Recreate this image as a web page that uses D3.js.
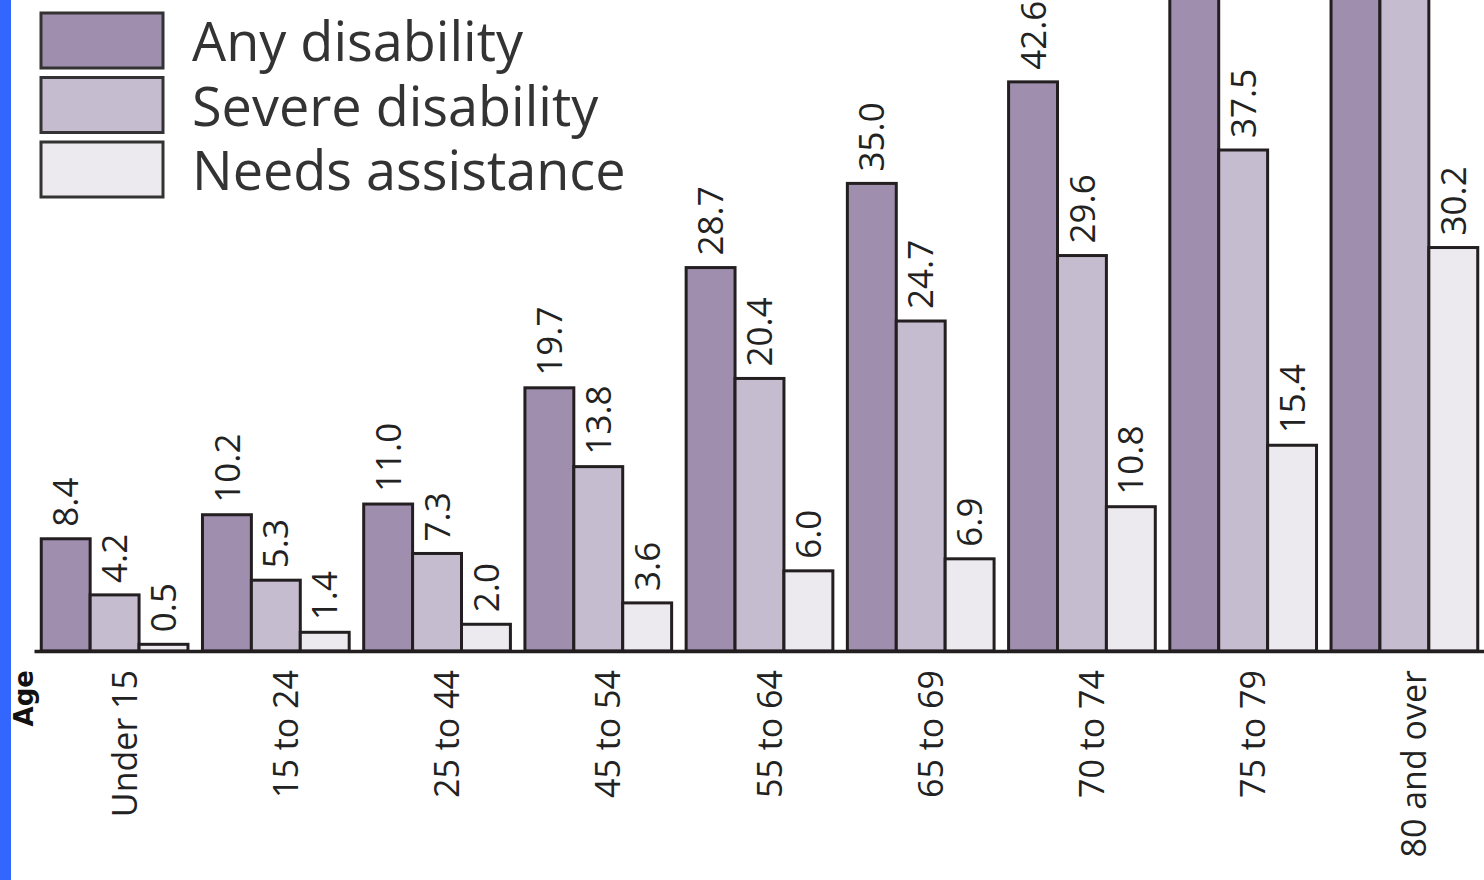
<!DOCTYPE html>
<html>
<head>
<meta charset="utf-8">
<script src="https://cdn.jsdelivr.net/npm/d3@7"></script>
<style>
  html, body { margin: 0; padding: 0; background: #fff; overflow: hidden; }
  svg { display: block; }
</style>
</head>
<body>
<svg id="chart"></svg>
<script>
// age groups and the three series (percent)
const ages = ['Under 15', '15 to 24', '25 to 44', '45 to 54', '55 to 64', '65 to 69', '70 to 74', '75 to 79', '80 and over']
const seriesNames = ['Any disability', 'Severe disability', 'Needs assistance']
const anyDisability = [8.4, 10.2, 11.0, 19.7, 28.7, 35.0, 42.6, 53.6, 71.0]
const severeDisability = [4.2, 5.3, 7.3, 13.8, 20.4, 24.7, 29.6, 37.5, 55.8]
const needsAssistance = [0.5, 1.4, 2.0, 3.6, 6.0, 6.9, 10.8, 15.4, 30.2]
const colors = ['#a08eaf', '#c6bccf', '#ece9ef']

const width = 1484
const height = 880
const baseY = 651

const svg = d3.select('#chart')
  .attr('width', width)
  .attr('height', height)

const seriesValues = [anyDisability, severeDisability, needsAssistance]
const data = ages.map((age, i) => ({
  age: age,
  values: seriesNames.map((name, j) => ({ name: name, value: seriesValues[j][i] }))
}))

// the chart is cropped at the top, tall bars run past the edge
const x0 = d3.scaleBand()
  .domain(ages)
  .range([34, 1485])
  .paddingInner(0.09)
  .paddingOuter(0.045)
const x1 = d3.scaleBand()
  .domain(seriesNames)
  .range([0, x0.bandwidth()])
const y = d3.scaleLinear()
  .domain([0, 50])
  .range([baseY, baseY - 50 * 13.36])
const color = d3.scaleOrdinal().domain(seriesNames).range(colors)

// blue strip on the left edge
svg.append('rect')
  .attr('x', 0).attr('y', 0)
  .attr('width', 11).attr('height', height)
  .style('fill', '#3366ff')

const groups = svg.selectAll('.group')
  .data(data)
  .enter().append('g')
  .attr('class', 'group')
  .attr('transform', (d) => `translate(${x0(d.age)},0)`)

groups.selectAll('rect')
  .data((d) => d.values)
  .enter().append('rect')
  .attr('x', (d) => x1(d.name))
  .attr('y', (d) => y(d.value))
  .attr('width', x1.bandwidth())
  .attr('height', (d) => baseY - y(d.value))
  .style('fill', (d) => color(d.name))
  .style('stroke', '#231f20')
  .style('stroke-width', 3)

// value labels, rotated (labels of bars running off the top are cropped away)
groups.selectAll('.val')
  .data((d) => d.values.filter((v) => y(v.value) > 0))
  .enter().append('text')
  .attr('class', 'val')
  .attr('transform', (d) => `translate(${x1(d.name) + x1.bandwidth() / 2},${y(d.value) - 12}) rotate(-90)`)
  .attr('dy', '0.36em')
  .style('font-family', '"Open Sans", sans-serif')
  .style('font-size', '35px')
  .style('fill', '#222')
  .text((d) => d.value.toFixed(1))

// x axis with rotated category labels
const xAxis = svg.append('g')
  .attr('transform', `translate(0,${baseY})`)
  .call(d3.axisBottom(x0).tickSize(0).tickSizeOuter(0))
xAxis.select('.domain')
  .style('stroke', '#231f20')
  .style('stroke-width', 3.5)
xAxis.selectAll('.tick text')
  .attr('transform', 'rotate(-90)')
  .attr('text-anchor', 'end')
  .attr('x', -19)
  .attr('y', 22)
  .attr('dy', 0)
  .style('font-family', '"Open Sans", sans-serif')
  .style('font-size', '34px')
  .style('fill', '#222')

svg.append('text')
  .attr('transform', `translate(33,${baseY + 19}) rotate(-90)`)
  .attr('text-anchor', 'end')
  .style('font-family', '"DejaVu Sans", sans-serif')
  .style('font-weight', 'bold')
  .style('font-size', '26px')
  .style('fill', '#111')
  .text('Age')

// legend
const legend = svg.selectAll('.legend')
  .data(seriesNames)
  .enter().append('g')
  .attr('class', 'legend')
  .attr('transform', (d, i) => `translate(41,${13 + i * 64.5})`)
legend.append('rect')
  .attr('width', 122)
  .attr('height', 55)
  .style('fill', (d) => color(d))
  .style('stroke', '#333')
  .style('stroke-width', 3)
legend.append('text')
  .attr('x', 151)
  .attr('y', 48)
  .style('font-family', '"Open Sans", sans-serif')
  .style('font-size', '54px')
  .style('fill', '#333')
  .text((d) => d)
</script>
</body>
</html>
